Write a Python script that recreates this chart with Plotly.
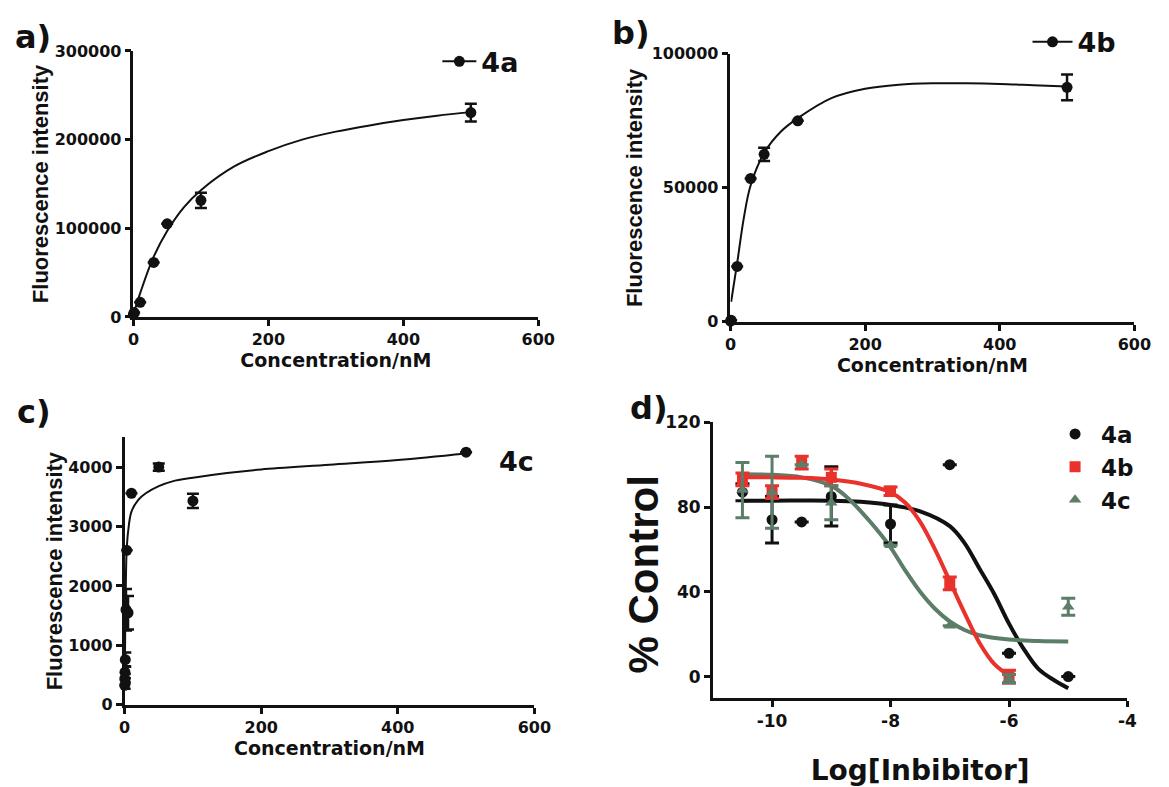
import plotly.graph_objects as go

# ---------------- data ----------------
# panel a: 4a saturation binding
conc_a = [0, 1, 10, 30, 50, 100, 500]
fluo_a = [3000, 5000, 16500, 61500, 105000, 131500, 230500]
err_a = [0, 0, 0, 0, 0, 8500, 10000]
fit_x_a = [0, 10, 30, 50, 75, 100, 150, 200, 250, 300, 350, 400, 450, 500]
fit_y_a = [3000, 27000, 68000, 97000, 124000, 143000, 170000, 187000, 200000,
           209000, 216000, 222000, 227000, 231000]

# panel b: 4b
conc_b = [0, 1, 10, 30, 50, 100, 500]
fluo_b = [300, 600, 20700, 53500, 62500, 75000, 87500]
err_b = [0, 0, 0, 0, 2500, 0, 4800]
fit_x_b = [1, 10, 20, 30, 50, 75, 100, 150, 200, 250, 300, 350, 400, 450, 500]
fit_y_b = [7500, 22000, 39000, 51000, 63000, 71000, 76000, 83500, 87000, 88500,
           89000, 89000, 88800, 88300, 87800]

# panel c: 4c
conc_c = [0.1, 0.25, 0.5, 1, 2, 3, 5, 10, 50, 100, 500]
fluo_c = [330, 440, 550, 760, 1600, 2600, 1550, 3560, 4000, 3430, 4250]
err_c = [60, 80, 100, 120, 350, 0, 280, 0, 60, 120, 0]
fit_x_c = [0.2, 1, 2, 3, 5, 10, 20, 31, 50, 70, 100, 150, 200, 300, 400, 500]
fit_y_c = [300, 1500, 2200, 2600, 2900, 3250, 3450, 3560, 3680, 3760, 3820,
           3900, 3960, 4040, 4120, 4230]

# panel d: inhibition curves
log_a = [-10.5, -10, -9.5, -9, -8, -7, -6, -5]
ctrl_a = [87, 74, 73, 85, 72, 100, 11, 0]
ctrl_err_a = [4, 11, 0, 14, 9, 0, 0, 0]
log_b = [-10.5, -10, -9.5, -9, -8, -7, -6]
ctrl_b = [93, 87, 101, 94, 87.5, 44, 0]
ctrl_err_b = [3, 3, 3, 4, 2, 3, 3]
log_c = [-10.5, -10, -9.5, -9, -8, -7, -6, -5]
ctrl_c = [88, 87, 100, 82, 62, 24, -1, 33]
ctrl_err_c = [13, 17, 0, 8, 0, 0, 2, 4]

fitd_x_a = [-10.5, -10, -9, -8.5, -8, -7.5, -7, -6.75, -6.5, -6.25, -6, -5.75, -5.5, -5.25, -5]
fitd_y_a = [83, 83, 83, 82.5, 81, 78, 71, 63, 51, 39, 25, 13, 3.5, -1.5, -5.5]
fitd_x_b = [-10.5, -10, -9.5, -9, -8.5, -8, -7.75, -7.5, -7.25, -7, -6.75, -6.5, -6.25, -6]
fitd_y_b = [94, 94, 93.8, 93, 91, 87, 82, 73, 60, 45, 30, 16, 6, 0.5]
fitd_x_c = [-10.5, -10, -9.5, -9, -8.75, -8.5, -8.25, -8, -7.75, -7.5, -7.25, -7,
            -6.75, -6.5, -6, -5.5, -5]
fitd_y_c = [95.5, 95.2, 94, 90, 85, 78, 70, 61, 50, 40, 32, 26, 22, 19.5, 17.5, 16.8, 16.6]

# tick values / labels
ticks_conc = [0, 200, 400, 600]
ticks_a = [0, 100000, 200000, 300000]
ticks_b = [0, 50000, 100000]
ticks_c = [0, 1000, 2000, 3000, 4000]
ticks_log = [-10, -8, -6, -4]
ticktext_log = ["-10", "-8", "-6", "-4"]
ticks_ctrl = [0, 40, 80, 120]

# ---------------- styling ----------------
HFONT = "DejaVu Sans"       # horizontal text (wide, matches the stretched look)
VFONT = "Liberation Sans"   # rotated axis titles
RED = "#e8322b"
GREEN = "#5c7d68"
BLACK = "#111111"


def tf(size, fam=HFONT):
    return dict(family=fam, size=size, color=BLACK, weight="bold")


fig = go.Figure()

# panel a
fig.add_trace(go.Scatter(x=fit_x_a, y=fit_y_a, mode="lines", line=dict(color=BLACK, width=2, shape="spline"),
                         xaxis="x", yaxis="y", showlegend=False, hoverinfo="skip"))
fig.add_trace(go.Scatter(x=conc_a, y=fluo_a, mode="markers", marker=dict(color=BLACK, size=11),
                         error_y=dict(type="data", array=err_a, color=BLACK, thickness=2.5, width=6),
                         xaxis="x", yaxis="y", showlegend=False, cliponaxis=False))
fig.add_trace(go.Scatter(x=[None], y=[None], mode="lines+markers", name="4a",
                         line=dict(color=BLACK, width=2), marker=dict(color=BLACK, size=11),
                         xaxis="x", yaxis="y", legend="legend"))

# panel b
fig.add_trace(go.Scatter(x=fit_x_b, y=fit_y_b, mode="lines", line=dict(color=BLACK, width=2, shape="spline"),
                         xaxis="x2", yaxis="y2", showlegend=False, hoverinfo="skip"))
fig.add_trace(go.Scatter(x=conc_b, y=fluo_b, mode="markers", marker=dict(color=BLACK, size=11),
                         error_y=dict(type="data", array=err_b, color=BLACK, thickness=2.5, width=6),
                         xaxis="x2", yaxis="y2", showlegend=False, cliponaxis=False))
fig.add_trace(go.Scatter(x=[None], y=[None], mode="lines+markers", name="4b",
                         line=dict(color=BLACK, width=2), marker=dict(color=BLACK, size=11),
                         xaxis="x2", yaxis="y2", legend="legend2"))

# panel c
fig.add_trace(go.Scatter(x=fit_x_c, y=fit_y_c, mode="lines", line=dict(color=BLACK, width=2, shape="spline"),
                         xaxis="x3", yaxis="y3", showlegend=False, hoverinfo="skip"))
fig.add_trace(go.Scatter(x=conc_c, y=fluo_c, mode="markers", marker=dict(color=BLACK, size=11),
                         error_y=dict(type="data", array=err_c, color=BLACK, thickness=2.5, width=6),
                         xaxis="x3", yaxis="y3", showlegend=False, cliponaxis=False))

# panel d curves
fig.add_trace(go.Scatter(x=fitd_x_a, y=fitd_y_a, mode="lines", line=dict(color=BLACK, width=4, shape="spline"),
                         xaxis="x4", yaxis="y4", showlegend=False, hoverinfo="skip"))
fig.add_trace(go.Scatter(x=fitd_x_c, y=fitd_y_c, mode="lines", line=dict(color=GREEN, width=4, shape="spline"),
                         xaxis="x4", yaxis="y4", showlegend=False, hoverinfo="skip"))
fig.add_trace(go.Scatter(x=fitd_x_b, y=fitd_y_b, mode="lines", line=dict(color=RED, width=4, shape="spline"),
                         xaxis="x4", yaxis="y4", showlegend=False, hoverinfo="skip"))
# panel d points
fig.add_trace(go.Scatter(x=log_a, y=ctrl_a, mode="markers", name="4a",
                         marker=dict(color=BLACK, size=11, symbol="circle"),
                         error_y=dict(type="data", array=ctrl_err_a, color=BLACK, thickness=3, width=7),
                         xaxis="x4", yaxis="y4", legend="legend4", cliponaxis=False))
fig.add_trace(go.Scatter(x=log_b, y=ctrl_b, mode="markers", name="4b",
                         marker=dict(color=RED, size=11, symbol="square"),
                         error_y=dict(type="data", array=ctrl_err_b, color=RED, thickness=3, width=7),
                         xaxis="x4", yaxis="y4", legend="legend4", cliponaxis=False))
fig.add_trace(go.Scatter(x=log_c, y=ctrl_c, mode="markers", name="4c",
                         marker=dict(color=GREEN, size=11, symbol="triangle-up"),
                         error_y=dict(type="data", array=ctrl_err_c, color=GREEN, thickness=3, width=7),
                         xaxis="x4", yaxis="y4", legend="legend4", cliponaxis=False))

W, H = 1169, 787


def dx(a, b):
    return [a / W, b / W]


def dy(bottom, top):
    return [1 - bottom / H, 1 - top / H]


def axis(domain, rng, anchor, tickvals, title, tfont, ticksize, standoff, ticktext=None, lw=2.5):
    d = dict(domain=domain, range=rng, anchor=anchor, showline=True, linecolor=BLACK, linewidth=lw,
             ticks="outside", ticklen=6, tickwidth=lw, tickcolor=BLACK, showgrid=False, zeroline=False,
             tickvals=tickvals, tickformat="d", tickfont=tf(ticksize), fixedrange=True)
    if title is not None:
        d["title"] = dict(text=title, font=tfont, standoff=standoff)
    if ticktext is not None:
        d["ticktext"] = ticktext
    return d


fig.update_layout(
    width=W, height=H, margin=dict(l=0, r=0, t=0, b=0),
    paper_bgcolor="white", plot_bgcolor="white",
    xaxis=axis(dx(130, 543), [0, 600], "y", ticks_conc, "Concentration/nM", tf(19), 16, 5),
    yaxis=axis(dy(315, 42), [0, 300000], "x", ticks_a, "Fluorescence intensity", tf(22, VFONT), 16, 0),
    xaxis2=axis(dx(739, 1151), [0, 600], "y2", ticks_conc, "Concentration/nM", tf(19), 16, 4),
    yaxis2=axis(dy(320, 45), [0, 100000], "x2", ticks_b, "Fluorescence intensity", tf(22, VFONT), 16, 4),
    xaxis3=axis(dx(121, 539), [0, 600], "y3", ticks_conc, "Concentration/nM", tf(19), 16, 4),
    yaxis3=axis(dy(713, 438.5), [0, 4500], "x3", ticks_c, "Fluorescence intensity", tf(22, VFONT), 16, 0),
    xaxis4=axis(dx(721, 1144), [-11, -4], "y4", ticks_log, "Log[Inbibitor]", tf(28), 17, 32,
                ticktext=ticktext_log),
    yaxis4=axis(dy(705.75, 423), [-10, 120], "x4", ticks_ctrl, None, None, 17, 0),
    legend=dict(x=440 / W, y=1 - 28 / H, xanchor="left", yanchor="top", font=tf(27),
                bgcolor="rgba(0,0,0,0)", itemwidth=34),
    legend2=dict(x=1042 / W, y=1 - 8 / H, xanchor="left", yanchor="top", font=tf(27),
                 bgcolor="rgba(0,0,0,0)", itemwidth=40),
    legend4=dict(x=1064 / W, y=1 - 413 / H, xanchor="left", yanchor="top", font=tf(23),
                 bgcolor="rgba(0,0,0,0)", itemwidth=42, tracegroupgap=0),
    showlegend=True,
)

# y title of panel d (large)
fig.add_annotation(text="% Control", x=650 / W, y=1 - 579 / H, xref="paper", yref="paper",
                   showarrow=False, textangle=-90, font=tf(42, VFONT), xanchor="center", yanchor="middle")

labels = [("a)", 28, 28), ("b)", 638, 24), ("c)", 29, 412), ("d)", 656, 408)]
for txt, lx, ly in labels:
    fig.add_annotation(text=txt, x=lx / W, y=1 - ly / H, xref="paper", yref="paper",
                       showarrow=False, font=tf(32), xanchor="center", yanchor="middle")
fig.add_annotation(text="4c", x=521 / W, y=1 - 463 / H, xref="paper", yref="paper",
                   showarrow=False, font=tf(27), xanchor="center", yanchor="middle")

fig.write_html("out.html")
